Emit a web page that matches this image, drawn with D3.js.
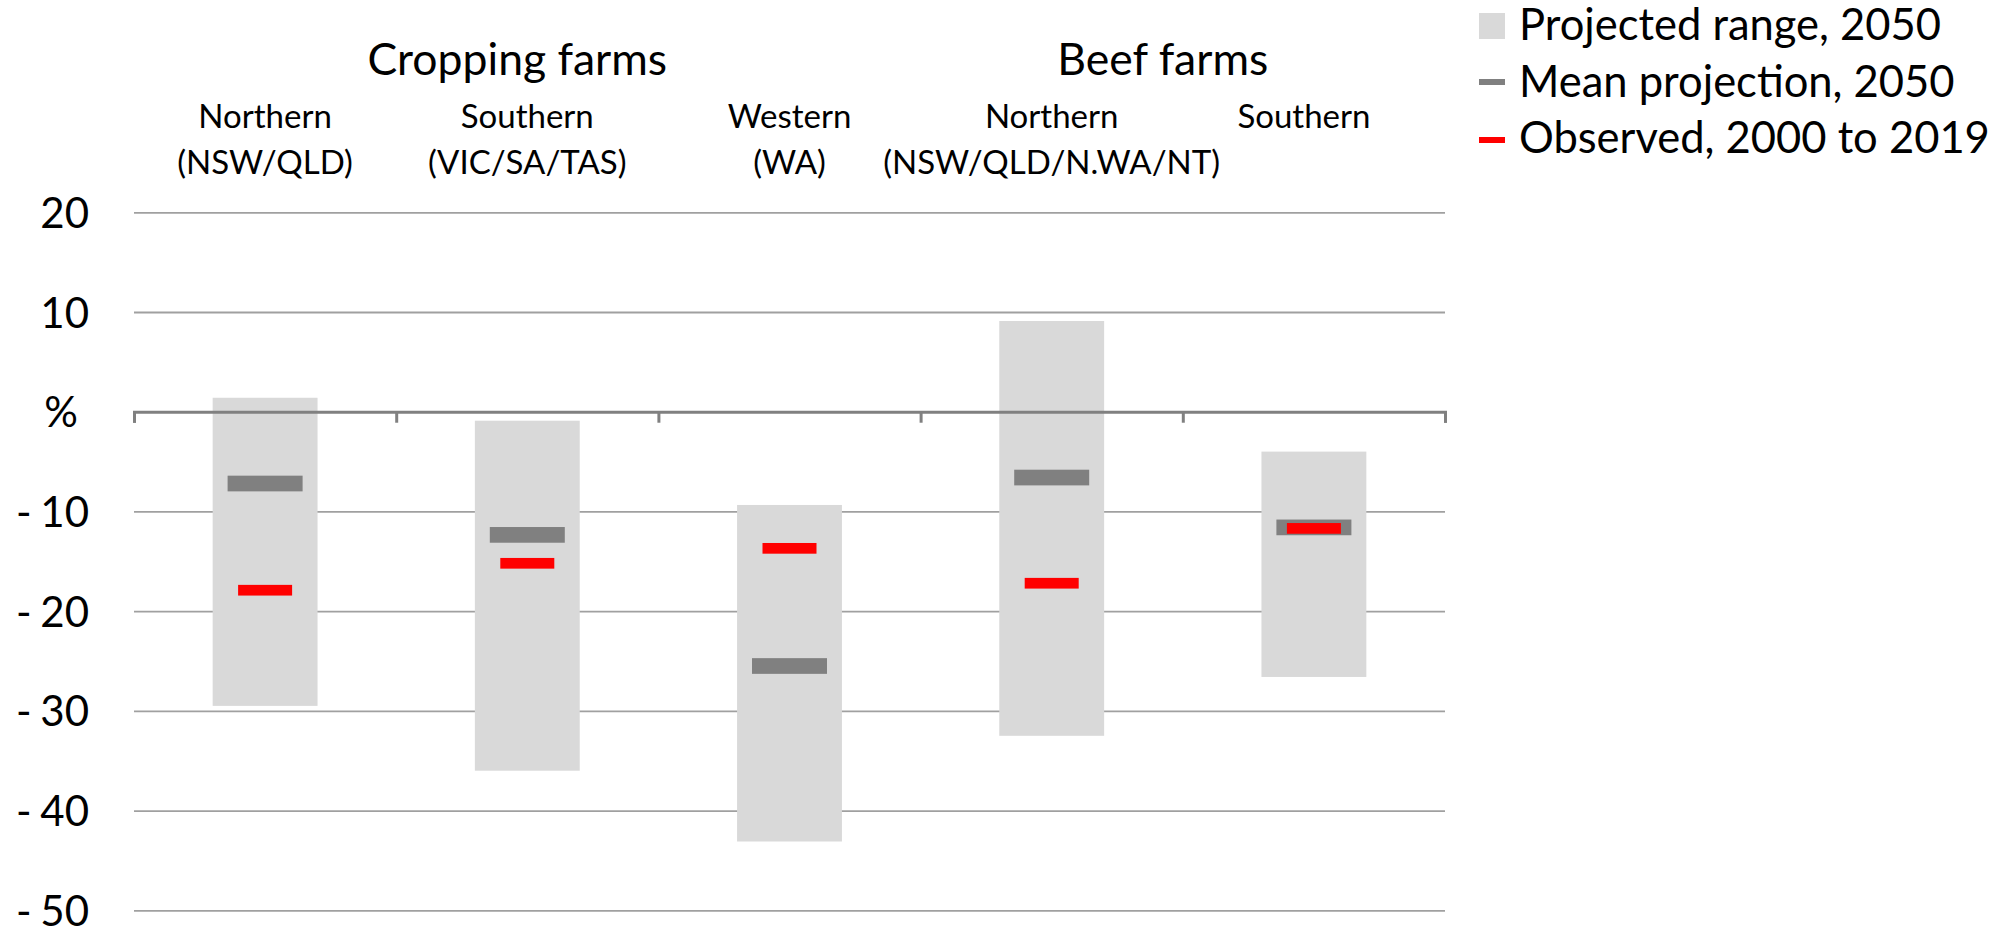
<!DOCTYPE html>
<html>
<head>
<meta charset="utf-8">
<script src="https://cdn.jsdelivr.net/npm/d3@7"></script>
<style>
  html, body { margin: 0; padding: 0; background: #fff; }
  svg { display: block; }
  text { font-family: Lato, "Open Sans", sans-serif; fill: #000; }
</style>
</head>
<body>
<svg id="chart" width="2002" height="928"></svg>
<script>
// ---- data ----
const categoryLine1 = ["Northern", "Southern", "Western", "Northern", "Southern"];
const categoryLine2 = ["(NSW/QLD)", "(VIC/SA/TAS)", "(WA)", "(NSW/QLD/N.WA/NT)", ""];
const groupNames = ["Cropping farms", "Beef farms"];
const groupSpans = [[0, 2], [3, 4]];
const rangeHigh = [1.4, -0.9, -9.35, 9.1, -4.0];
const rangeLow = [-29.5, -36.0, -43.1, -32.5, -26.6];
const meanProjection = [-7.2, -12.35, -25.5, -6.6, -11.6];
const observed = [-17.9, -15.2, -13.7, -17.2, -11.7];
const yTickValues = [20, 10, 0, -10, -20, -30, -40, -50];
const yTickLabels = ["20", "10", "%", "- 10", "- 20", "- 30", "- 40", "- 50"];
const legendLabels = ["Projected range, 2050", "Mean projection, 2050", "Observed, 2000 to 2019"];

// ---- layout ----
const svg = d3.select("#chart");
const left = 134, right = 1445;
const y = d3.scaleLinear().domain([-50, 20]).range([910.3, 212.3]);
const x = d3.scaleBand().domain(d3.range(categoryLine1.length))
  .range([left, right]).paddingInner(0.6).paddingOuter(0.3);
const xb = d3.scaleLinear().domain([0, categoryLine1.length]).range([left, right]);

const COL_RANGE = "#d9d9d9", COL_MEAN = "#808080", COL_OBS = "#ff0000";

// gridlines + y labels
const yAxis = d3.axisLeft(y)
  .tickValues(yTickValues)
  .tickSize(-(right - left))
  .tickPadding(45)
  .tickFormat((d, i) => yTickLabels[i]);
const gy = svg.append("g").attr("transform", `translate(${left},0)`).call(yAxis);
gy.select(".domain").remove();
gy.selectAll(".tick line")
  .attr("stroke", "#a0a0a0").attr("stroke-width", 1.8)
  .attr("display", d => d === 0 ? "none" : null);
gy.selectAll(".tick text")
  .attr("font-size", 42).attr("font-family", "Lato").attr("fill", "#000")
  .attr("word-spacing", -2)
  .attr("dy", "0.36em")
  .attr("dx", d => d === 0 ? -11 : 0);

// range bars
svg.append("g").selectAll("rect").data(rangeHigh).join("rect")
  .attr("x", (d, i) => x(i))
  .attr("width", x.bandwidth())
  .attr("y", d => y(d))
  .attr("height", (d, i) => y(rangeLow[i]) - y(d))
  .attr("fill", COL_RANGE);

// x axis (zero line with ticks)
const xAxis = d3.axisBottom(xb).tickValues(d3.range(categoryLine1.length + 1))
  .tickSize(11).tickFormat("");
const gx = svg.append("g").attr("transform", `translate(0,${y(0)})`).call(xAxis);
gx.selectAll("path, line").attr("stroke", "#808080").attr("stroke-width", 3);

// mean markers
const meanW = 75, meanH = 15.7;
svg.append("g").selectAll("rect").data(meanProjection).join("rect")
  .attr("x", (d, i) => x(i) + x.bandwidth() / 2 - meanW / 2)
  .attr("y", d => y(d) - meanH / 2)
  .attr("width", meanW).attr("height", meanH)
  .attr("fill", COL_MEAN);

// observed markers
const obsW = 54, obsH = 10.7;
svg.append("g").selectAll("rect").data(observed).join("rect")
  .attr("x", (d, i) => x(i) + x.bandwidth() / 2 - obsW / 2)
  .attr("y", d => y(d) - obsH / 2)
  .attr("width", obsW).attr("height", obsH)
  .attr("fill", COL_OBS);

// category labels
const cat = svg.append("g").attr("text-anchor", "middle").attr("font-size", 33);
cat.selectAll("text.l1").data(categoryLine1).join("text").attr("class", "l1")
  .attr("x", (d, i) => x(i) + x.bandwidth() / 2 - (i === 4 ? 10 : 0))
  .attr("y", 128).text(d => d);
cat.selectAll("text.l2").data(categoryLine2).join("text").attr("class", "l2")
  .attr("x", (d, i) => x(i) + x.bandwidth() / 2)
  .attr("y", 174).text(d => d);

// group labels
svg.append("g").attr("text-anchor", "middle").attr("font-size", 44.5)
  .selectAll("text").data(groupNames).join("text")
  .attr("x", (d, i) => (xb(groupSpans[i][0]) + xb(groupSpans[i][1] + 1)) / 2 - (i === 0 ? 10 : 20))
  .attr("y", 75).text(d => d);

// legend
const lg = svg.append("g").attr("transform", "translate(1479,0)");
lg.append("rect").attr("x", 0).attr("y", 13).attr("width", 26).attr("height", 26).attr("fill", COL_RANGE);
lg.append("rect").attr("x", 0).attr("y", 79).attr("width", 26).attr("height", 6).attr("fill", COL_MEAN);
lg.append("rect").attr("x", 0).attr("y", 137).attr("width", 26).attr("height", 6).attr("fill", COL_OBS);
lg.selectAll("text").data(legendLabels).join("text")
  .attr("x", 40).attr("y", (d, i) => [40, 97, 153][i])
  .attr("font-size", 43.5).text(d => d);
</script>
</body>
</html>
